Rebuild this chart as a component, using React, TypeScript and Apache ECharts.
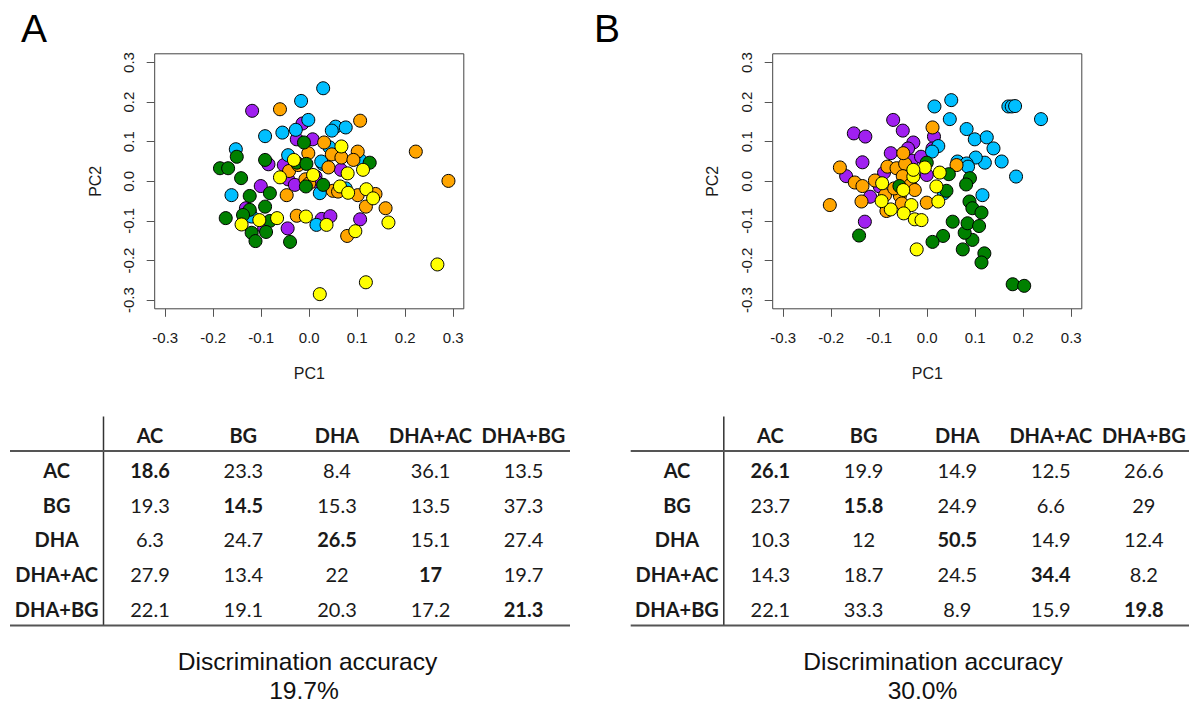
import React, { useEffect, useRef } from "react";
import * as echarts from "echarts";

// ---------- data ----------
const groups = ["AC", "BG", "DHA", "DHA+AC", "DHA+BG"];
const tickValues = [-0.3, -0.2, -0.1, 0, 0.1, 0.2, 0.3];

// Panel A scores (PC1, PC2)
const A_purple = [[-0.119,0.178],[-0.014,0.146],[-0.026,0.106],[0.007,0.106],[-0.085,0.043],[-0.053,0.041],[-0.044,0.005],[-0.030,-0.009],[0.013,0.012],[0.015,-0.001],[-0.101,-0.012],[0.066,0.029],[-0.132,-0.068],[-0.124,-0.077],[-0.094,-0.117],[-0.045,-0.119],[0.026,-0.095],[0.044,-0.088],[0.106,-0.096]];
const A_cyan = [[0.029,0.235],[-0.017,0.203],[-0.002,0.155],[-0.028,0.130],[-0.056,0.123],[-0.092,0.114],[0.055,0.138],[0.047,0.128],[0.076,0.136],[-0.153,0.081],[0.042,0.086],[-0.044,0.066],[0.028,0.044],[0.025,0.050],[0.022,-0.030],[0.076,-0.018],[-0.162,-0.035],[0.106,0.054],[0.015,-0.110],[-0.120,-0.089]];
const A_orange = [[-0.061,0.182],[0.106,0.153],[0.222,0.075],[0.290,0.001],[0.031,0.098],[-0.002,0.071],[0.047,0.068],[0.067,0.060],[0.101,0.075],[0.092,0.054],[-0.042,0.026],[-0.023,0.041],[0.040,0.035],[-0.008,0.005],[0.000,-0.005],[-0.047,-0.035],[0.049,-0.024],[0.060,-0.026],[0.101,-0.035],[0.138,-0.032],[0.118,-0.064],[0.159,-0.068],[-0.026,-0.087],[0.079,-0.138]];
const A_green = [[-0.186,0.033],[-0.169,0.033],[-0.151,0.062],[-0.142,0.008],[-0.092,0.054],[-0.011,0.098],[-0.026,0.047],[-0.006,0.044],[0.126,0.047],[-0.007,-0.013],[0.029,-0.009],[-0.082,-0.030],[-0.124,-0.037],[-0.092,-0.064],[-0.124,-0.072],[-0.174,-0.093],[-0.138,-0.085],[-0.082,-0.100],[-0.090,-0.128],[-0.120,-0.130],[-0.112,-0.151],[-0.040,-0.153]];
const A_yellow = [[0.022,-0.285],[0.118,-0.255],[0.267,-0.210],[0.165,-0.104],[0.096,-0.126],[0.036,-0.110],[-0.007,-0.089],[-0.067,-0.093],[-0.104,-0.098],[-0.141,-0.109],[0.067,0.088],[0.080,0.020],[0.112,0.029],[0.064,-0.013],[0.081,-0.029],[0.119,-0.020],[0.133,-0.043],[-0.061,0.010],[-0.032,0.054],[0.008,0.016]];

// Panel B scores (PC1, PC2)
const B_purple = [[-0.153,0.121],[-0.129,0.113],[-0.071,0.155],[-0.051,0.128],[-0.029,0.098],[-0.040,0.083],[-0.076,0.071],[-0.032,0.052],[-0.013,0.062],[-0.135,0.048],[-0.169,0.013],[-0.119,-0.039],[-0.130,-0.102],[0.014,0.113],[0.011,0.083],[-0.090,0.022],[-0.001,0.016],[-0.099,-0.013]];
const B_cyan = [[0.050,0.205],[0.015,0.189],[0.047,0.157],[0.082,0.132],[0.099,0.106],[0.124,0.111],[0.138,0.083],[0.155,0.050],[0.120,0.047],[0.101,0.060],[0.063,0.050],[0.082,0.045],[0.085,0.037],[0.023,0.089],[0.010,0.075],[0.169,0.189],[0.176,0.189],[0.183,0.190],[0.237,0.157],[0.185,0.012],[0.115,-0.035],[0.035,-0.030]];
const B_orange = [[0.011,0.136],[-0.182,0.035],[-0.203,-0.060],[-0.151,-0.003],[-0.135,-0.012],[-0.109,0.002],[-0.137,-0.051],[-0.083,0.037],[-0.064,0.033],[-0.046,0.044],[-0.051,0.013],[-0.088,-0.035],[-0.057,-0.037],[-0.085,-0.075],[-0.035,-0.009],[-0.026,-0.022],[-0.001,-0.054],[0.061,0.041],[-0.053,-0.056],[-0.069,-0.018],[-0.050,0.071]];
const B_green = [[0.178,-0.260],[0.202,-0.264],[0.119,-0.182],[0.113,-0.205],[0.074,-0.172],[0.094,-0.148],[0.078,-0.130],[0.084,-0.106],[0.108,-0.113],[0.053,-0.102],[0.033,-0.138],[0.011,-0.153],[-0.142,-0.137],[0.088,-0.051],[0.094,-0.068],[0.113,-0.079],[0.089,0.008],[0.081,-0.008],[0.045,0.018],[0.040,-0.024],[-0.001,0.047],[-0.058,-0.012]];
const B_yellow = [[-0.022,-0.172],[-0.005,0.035],[0.026,0.022],[0.019,-0.013],[0.023,-0.051],[-0.033,-0.060],[-0.049,-0.081],[-0.026,-0.096],[-0.012,-0.098],[-0.094,-0.005],[-0.076,-0.071],[-0.095,-0.050],[-0.050,-0.022],[-0.029,0.012],[-0.029,0.029]];

// Confusion tables (%)
const tableA = [
  [18.6, 23.3, 8.4, 36.1, 13.5],
  [19.3, 14.5, 15.3, 13.5, 37.3],
  [6.3, 24.7, 26.5, 15.1, 27.4],
  [27.9, 13.4, 22, 17, 19.7],
  [22.1, 19.1, 20.3, 17.2, 21.3],
];
const tableB = [
  [26.1, 19.9, 14.9, 12.5, 26.6],
  [23.7, 15.8, 24.9, 6.6, 29],
  [10.3, 12, 50.5, 14.9, 12.4],
  [14.3, 18.7, 24.5, 34.4, 8.2],
  [22.1, 33.3, 8.9, 15.9, 19.8],
];
const accuracyA = "19.7%";
const accuracyB = "30.0%";

// ---------- styling ----------
const COLORS = { purple: "#A020F0", cyan: "#00BFFF", orange: "#FFA500", green: "#008000", yellow: "#FFFF00" };
const AXIS_FONT = "'Liberation Sans', Arial, sans-serif";
const TABLE_FONT = "Lato, 'Open Sans', sans-serif";

function buildOption() {
  const grids = [
    { left: 154.7, top: 53.8, width: 309.1, height: 255 },
    { left: 772.7, top: 53.8, width: 309.1, height: 255 },
  ].map((g) => ({ ...g, show: true, borderColor: "#444", borderWidth: 1, backgroundColor: "transparent" }));

  const tickStyle = { show: true, inside: false, length: 8, lineStyle: { color: "#555", width: 1 }, customValues: tickValues };
  const labelCommon = { customValues: tickValues, formatter: (v: number) => v.toFixed(1), fontSize: 15, color: "#1a1a1a", fontFamily: AXIS_FONT };

  const xAxis = [0, 1].map((i) => ({
    type: "value", gridIndex: i, position: "bottom", min: -0.322, max: 0.322,
    splitLine: { show: false }, axisLine: { show: false, onZero: false },
    axisTick: tickStyle, axisLabel: { ...labelCommon, margin: 21 },
  }));
  const yAxis = [0, 1].map((i) => ({
    type: "value", gridIndex: i, position: "left", min: -0.322, max: 0.322,
    splitLine: { show: false }, axisLine: { show: false, onZero: false },
    axisTick: tickStyle, axisLabel: { ...labelCommon, rotate: 90, margin: 19 },
  }));

  const sets = [
    [A_purple, A_cyan, A_orange, A_green, A_yellow],
    [B_purple, B_cyan, B_orange, B_green, B_yellow],
  ];
  const colorOrder = [COLORS.purple, COLORS.cyan, COLORS.orange, COLORS.green, COLORS.yellow];
  const series: any[] = [];
  sets.forEach((s, i) => {
    s.forEach((data, k) => {
      series.push({
        type: "scatter", name: groups[k], xAxisIndex: i, yAxisIndex: i,
        data, symbol: "circle", symbolSize: 13, z: 2 + k,
        itemStyle: { color: colorOrder[k], borderColor: "#000", borderWidth: 1, opacity: 1 },
        emphasis: { disabled: true },
      });
    });
  });

  const graphic: any[] = [];
  const txt = (text: string, x: number, y: number, o: any = {}) => ({
    type: "text", silent: true,
    style: { text, x, y, align: "center", verticalAlign: "middle", fontSize: 20, fontFamily: TABLE_FONT, fill: "#1a1a1a", ...o },
  });

  // panel letters and axis titles
  graphic.push(txt("A", 21, 28, { align: "left", fontSize: 39, fontFamily: AXIS_FONT, fill: "#000" }));
  graphic.push(txt("B", 594, 28, { align: "left", fontSize: 39, fontFamily: AXIS_FONT, fill: "#000" }));
  [[309.3, 95], [927.3, 712]].forEach(([cx, py]) => {
    graphic.push(txt("PC1", cx, 373, { fontSize: 16, fontFamily: AXIS_FONT, fill: "#1a1a1a" }));
    graphic.push({
      type: "text", silent: true, x: py, y: 181.3, rotation: Math.PI / 2,
      style: { text: "PC2", x: 0, y: 0, align: "center", verticalAlign: "middle", fontSize: 16, fontFamily: AXIS_FONT, fill: "#1a1a1a" },
    });
  });

  // tables
  const rowsY = [470, 504.7, 539.3, 574, 608.7];
  const headerY = 435;
  const drawTable = (tbl: number[][], dx: number, lineX1: number, lineX2: number, acc: string, accX1: number, accX2: number) => {
    const labelX = 56.7 + dx;
    const colX = [150, 243.3, 337, 430.5, 523.5].map((c) => c + dx);
    const vX = 103.5 + dx;
    graphic.push({ type: "line", silent: true, shape: { x1: vX, y1: 416.5, x2: vX, y2: 625 }, style: { stroke: "#333", lineWidth: 1.5 } });
    graphic.push({ type: "line", silent: true, shape: { x1: lineX1, y1: 451, x2: lineX2, y2: 451 }, style: { stroke: "#555", lineWidth: 2 } });
    graphic.push({ type: "line", silent: true, shape: { x1: lineX1, y1: 625.5, x2: lineX2, y2: 625.5 }, style: { stroke: "#555", lineWidth: 2 } });
    groups.forEach((g, j) => graphic.push(txt(g, colX[j], headerY, { fontWeight: "bold" })));
    groups.forEach((g, r) => {
      graphic.push(txt(g, labelX, rowsY[r], { fontWeight: "bold" }));
      tbl[r].forEach((v, c) => graphic.push(txt(String(v), colX[c], rowsY[r], { fontWeight: r === c ? "bold" : "normal" })));
    });
    graphic.push(txt("Discrimination accuracy", accX1, 661, { fontSize: 24.6, fontFamily: AXIS_FONT, fill: "#111" }));
    graphic.push(txt(acc, accX2, 690, { fontSize: 24.6, fontFamily: AXIS_FONT, fill: "#111" }));
  };
  drawTable(tableA, 0, 10, 570, accuracyA, 307.5, 304);
  drawTable(tableB, 620.3, 630.7, 1189, accuracyB, 933, 922.5);

  return { animation: false, backgroundColor: "#fff", grid: grids, xAxis, yAxis, series, graphic, tooltip: { show: false } };
}

export default function App() {
  const ref = useRef<HTMLDivElement>(null);
  useEffect(() => {
    document.body.style.margin = "0";
    const chart = echarts.init(ref.current!, undefined, { renderer: "svg" });
    chart.setOption(buildOption() as any);
    return () => chart.dispose();
  }, []);
  return <div ref={ref} style={{ position: "absolute", left: 0, top: 0, width: 1189, height: 702 }} />;
}
